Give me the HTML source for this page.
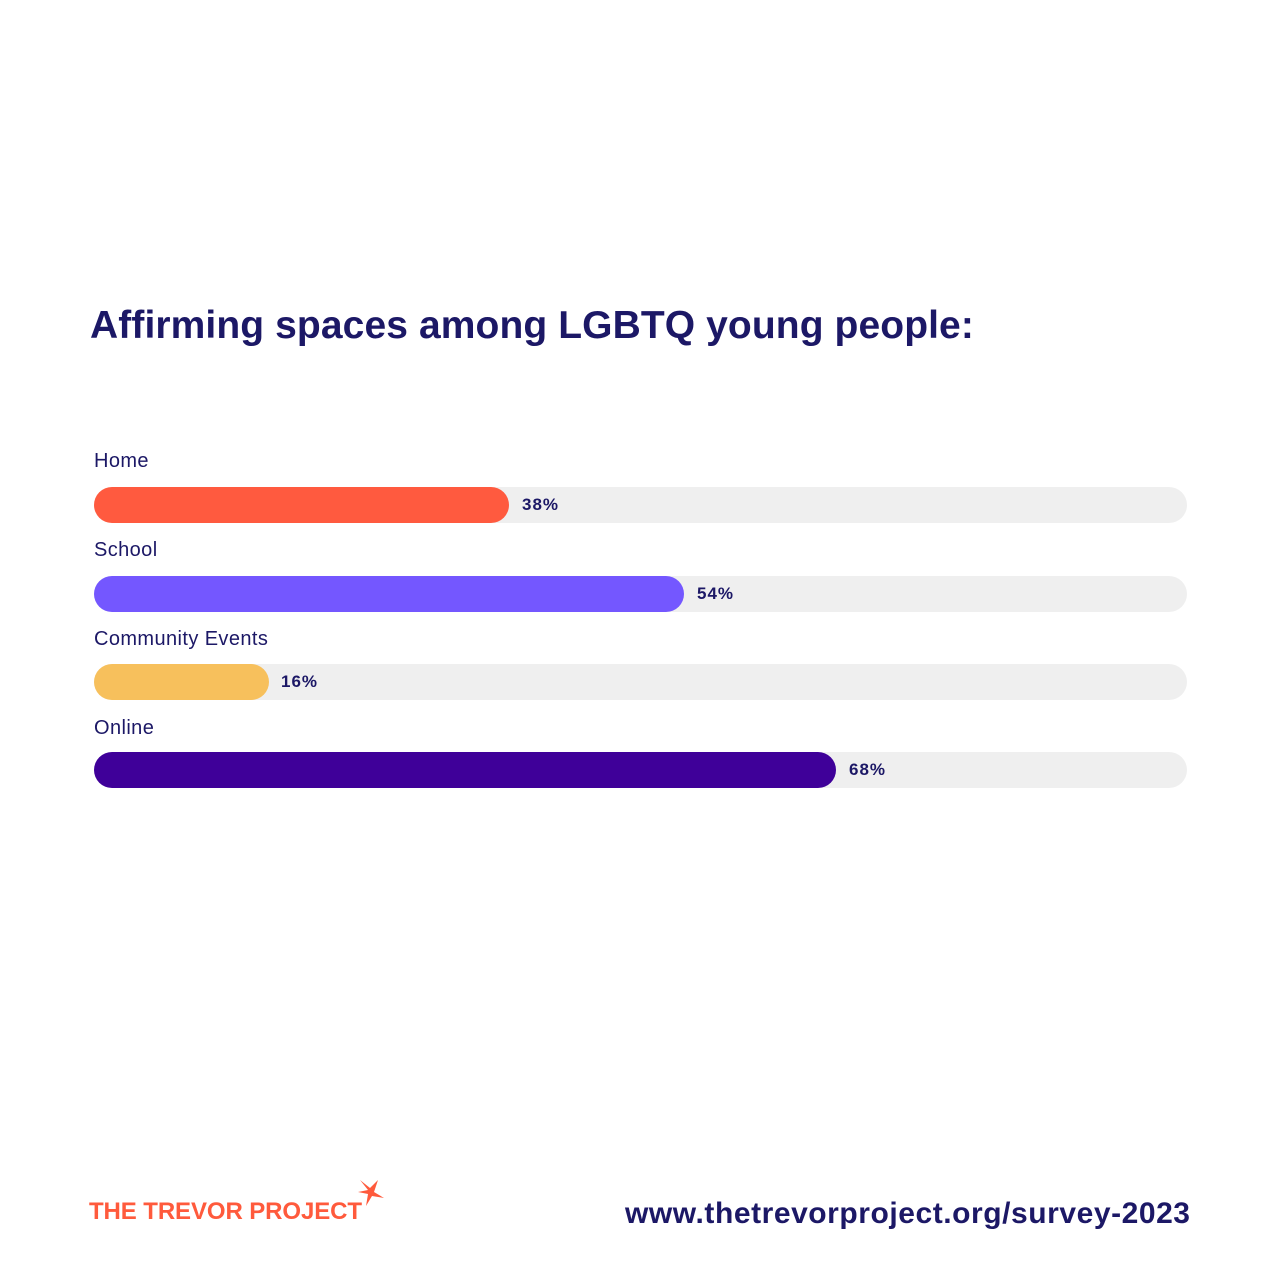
<!DOCTYPE html>
<html><head><style>
body{margin:0;width:1280px;height:1280px;background:#fff;position:relative;font-family:"Liberation Sans",sans-serif;color:#1c1866;overflow:hidden}
.t{position:absolute;left:90px;top:304px;font-size:39px;font-weight:bold;letter-spacing:0.1px;white-space:nowrap}
.l{position:absolute;left:94px;font-size:20px;letter-spacing:0.4px;white-space:nowrap}
.bg{position:absolute;left:94px;width:1093px;height:36px;border-radius:18px;background:#efefef}
.b{position:absolute;left:0;top:0;height:36px;border-radius:18px}
.p{position:absolute;top:8px;font-size:17px;font-weight:bold;letter-spacing:1px}
.logo{position:absolute;left:89px;top:1198px;font-size:24px;font-weight:bold;color:#ff5a3c;white-space:nowrap;letter-spacing:-0.1px}
.url{position:absolute;left:625px;top:1197px;font-size:30px;font-weight:bold;white-space:nowrap;letter-spacing:0.55px}
</style></head><body>
<div class="t">Affirming spaces among LGBTQ young people:</div>
<div class="l" style="top:450px">Home</div>
<div class="bg" style="top:487px"><div class="b" style="width:415px;background:#ff5a3f"></div><div class="p" style="left:428px">38%</div></div>
<div class="l" style="top:539px">School</div>
<div class="bg" style="top:576px"><div class="b" style="width:590px;background:#7457ff"></div><div class="p" style="left:603px">54%</div></div>
<div class="l" style="top:628px">Community Events</div>
<div class="bg" style="top:664px"><div class="b" style="width:175px;background:#f7c05c"></div><div class="p" style="left:187px">16%</div></div>
<div class="l" style="top:717px">Online</div>
<div class="bg" style="top:752px"><div class="b" style="width:742px;background:#3f0099"></div><div class="p" style="left:755px">68%</div></div>
<div class="logo">THE TREVOR PROJECT</div>
<svg style="position:absolute;left:356px;top:1178px" width="30" height="30"><polygon points="4,2 14,10 22,2 18,14 28,20 16,18 10,28 12,16 2,14 12,12" fill="#ff5a3c"/></svg>
<div class="url">www.thetrevorproject.org/survey-2023</div>
</body></html>
